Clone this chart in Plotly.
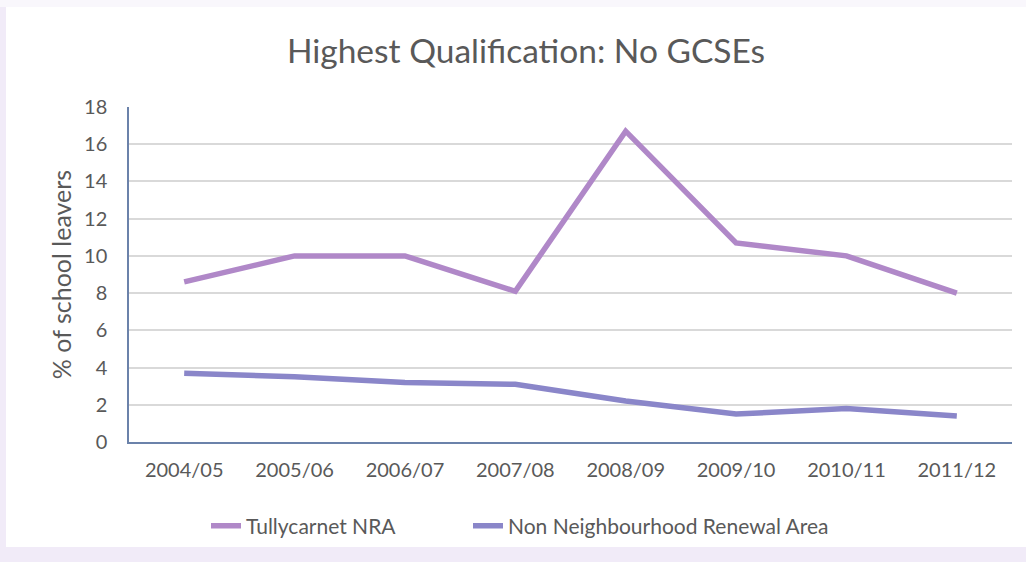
import plotly.graph_objects as go

years = ["2004/05", "2005/06", "2006/07", "2007/08", "2008/09", "2009/10", "2010/11", "2011/12"]
tullycarnet = [8.6, 10.0, 10.0, 8.1, 16.7, 10.7, 10.0, 8.0]
non_nra = [3.7, 3.5, 3.2, 3.1, 2.2, 1.5, 1.8, 1.4]
y_ticks = [0, 2, 4, 6, 8, 10, 12, 14, 16, 18]

W, H = 1026, 562
L, R, T, B = 129, 14, 107, 120
pw, ph = W - L - R, H - T - B

def px(x):
    return (x - L) / pw

def py(y):
    return (H - B - y) / ph

fig = go.Figure()
fig.add_trace(go.Scatter(x=years, y=tullycarnet, mode="lines", name="Tullycarnet NRA",
                         line=dict(color="#B088C8", width=5.5), legend="legend"))
fig.add_trace(go.Scatter(x=years, y=non_nra, mode="lines", name="Non Neighbourhood Renewal Area",
                         line=dict(color="#8A86C9", width=5.5), legend="legend2"))

font_family = "Lato, 'Open Sans', sans-serif"
legend_common = dict(orientation="h", xanchor="left", y=py(526), yanchor="middle",
                     font=dict(size=21, color="#595959"), bgcolor="rgba(0,0,0,0)", itemwidth=30)
fig.update_layout(
    width=W, height=H,
    margin=dict(l=L, r=R, t=T, b=B),
    paper_bgcolor="#F1EBF8",
    plot_bgcolor="white",
    font=dict(family=font_family, color="#595959", size=20),
    title=dict(text="Highest Qualification: No GCSEs", x=526 / W, xanchor="center",
               y=1 - 51 / H, yanchor="middle",
               font=dict(size=33.5, color="#595959", family=font_family)),
    xaxis=dict(showline=True, linecolor="#6B82AA", linewidth=1.5, showgrid=False,
               ticks="", tickfont=dict(size=20), range=[-0.5, 7.5], ticklabelstandoff=9),
    yaxis=dict(range=[0, 18], tickvals=y_ticks, showline=True, linecolor="#6B82AA", linewidth=1.5,
               gridcolor="#D9D9D9", gridwidth=1.5, ticks="", tickfont=dict(size=20),
               zeroline=False, ticklabelstandoff=16,
               title=dict(text="% of school leavers", font=dict(size=25, color="#595959"), standoff=5)),
    legend=dict(x=px(206), **legend_common),
    legend2=dict(x=px(468), **legend_common),
    showlegend=True,
    shapes=[
        dict(type="rect", xref="paper", yref="paper", layer="below",
             x0=px(6), x1=px(1026), y0=py(547), y1=py(7),
             fillcolor="white", line=dict(width=0)),
        dict(type="rect", xref="paper", yref="paper", layer="below",
             x0=px(0), x1=px(1026), y0=py(7), y1=py(0),
             fillcolor="#F9F7FC", line=dict(width=0)),
    ],
)

fig.write_html("out.html", config={"displayModeBar": False},
               post_script="document.body.style.margin='0';")
